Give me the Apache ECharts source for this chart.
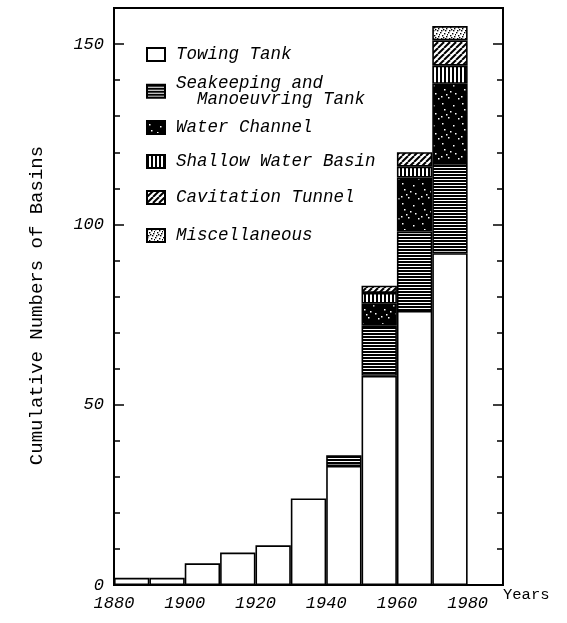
<!DOCTYPE html>
<html>
<head>
<meta charset="utf-8">
<script src="https://cdn.jsdelivr.net/npm/echarts@6/dist/echarts.min.js"></script>
<style>html,body{margin:0;padding:0;background:#fff;}#c{width:567px;height:623px;}</style>
</head>
<body>
<div id="c"></div>
<script>
// ---- data ----
const years = ['1880','1890','1900','1910','1920','1930','1940','1950','1960','1970','1980'];
const towingTank      = [2, 2, 6, 9, 11, 24, 33, 58, 76, 92, null];
const seakeepingTank  = [null, null, null, null, null, null, 3, 14, 22, 25, null];
const waterChannel    = [null, null, null, null, null, null, null, 6, 15, 22, null];
const shallowWater    = [null, null, null, null, null, null, null, 3, 3, 5, null];
const cavitationTunnel= [null, null, null, null, null, null, null, 2, 4, 7, null];
const miscellaneous   = [null, null, null, null, null, null, null, null, null, 4, null];
const yTickLabels = [0, 50, 100, 150];
const xTickLabels = [1880, 1900, 1920, 1940, 1960, 1980];

const seriesNames = ['Towing Tank', 'Seakeeping and\n  Manoeuvring Tank', 'Water Channel',
  'Shallow Water Basin', 'Cavitation Tunnel', 'Miscellaneous'];

// ---- patterns ----
function pat(w, h, bg, draw) {
  const c = document.createElement('canvas');
  c.width = w; c.height = h;
  const ctx = c.getContext('2d');
  ctx.fillStyle = bg; ctx.fillRect(0, 0, w, h);
  draw(ctx, w, h);
  return { image: c, repeat: 'repeat' };
}
const pWhite = '#ffffff';
const pHoriz = pat(3, 3, '#fff', (ctx) => { ctx.fillStyle = '#000'; ctx.fillRect(0, 0, 3, 2); });
const pVert = pat(4, 4, '#fff', (ctx) => { ctx.fillStyle = '#000'; ctx.fillRect(0, 0, 2, 4); });
const pDiag = pat(6, 6, '#fff', (ctx, w, h) => {
  ctx.strokeStyle = '#000'; ctx.lineWidth = 2;
  for (const o of [-6, 0, 6]) { ctx.beginPath(); ctx.moveTo(o, h); ctx.lineTo(o + w, 0); ctx.stroke(); }
});
const speckW = [[2,3],[13,5],[4,9],[10,11],[15,13],[1,16],[8,17],[18,18],[6,14]];
const pSpeckBlack = pat(20, 20, '#000', (ctx) => {
  ctx.fillStyle = '#fff';
  speckW.forEach(([x, y]) => ctx.fillRect(x, y, 1.5, 1.5));
});
const speckB = [[0,0],[4,1],[2,3],[6,4],[1,6],[5,6],[3,5],[7,2]];
const pSpeckWhite = pat(8, 8, '#fff', (ctx) => {
  ctx.fillStyle = '#000';
  speckB.forEach(([x, y]) => ctx.fillRect(x, y, 1.4, 1.4));
});
const fills = [pWhite, pHoriz, pSpeckBlack, pVert, pDiag, pSpeckWhite];
const values = [towingTank, seakeepingTank, waterChannel, shallowWater, cavitationTunnel, miscellaneous];

const mono = 'Liberation Mono';
const legendCenters = [54, 90, 127, 161, 197, 235];

const legends = seriesNames.map((n, i) => {
  const twoLine = n.indexOf('\n') >= 0;
  const h = twoLine ? 31 : 17;
  return {
    data: [n], orient: 'vertical', left: 146, top: legendCenters[i] - h / 2,
    padding: 0, itemWidth: 18, itemHeight: 13, icon: 'rect', selectedMode: false,
    itemStyle: { borderColor: '#000', borderWidth: 2 },
    textStyle: { fontFamily: mono, fontStyle: 'italic', fontSize: 17.5, color: '#000',
      lineHeight: twoLine ? 15.5 : 17, padding: [0, 0, 0, 6] }
  };
});

const series = seriesNames.map((n, i) => ({
  name: n, type: 'bar', stack: 'total', xAxisIndex: 0, yAxisIndex: 0,
  barCategoryGap: '0%', data: values[i],
  itemStyle: { color: fills[i], borderColor: '#000', borderWidth: 1.6 }
}));

const tickLine = { lineStyle: { color: '#000', width: 1.5 } };
const option = {
  animation: false,
  backgroundColor: '#fff',
  legend: legends,
  grid: { left: 114, right: 64, top: 8, bottom: 38, show: true, borderColor: '#000', borderWidth: 2, containLabel: false },
  xAxis: [
    { type: 'category', data: years, show: false, boundaryGap: true },
    { type: 'value', min: 1880, max: 1990, interval: 20, position: 'bottom',
      name: 'Years', nameLocation: 'end', nameGap: 0,
      nameTextStyle: { fontFamily: mono, fontSize: 15.5, color: '#000', verticalAlign: 'top', padding: [2, 0, 0, 0] },
      axisLine: { show: true, lineStyle: { color: '#000', width: 2 } },
      axisTick: { show: false }, splitLine: { show: false },
      axisLabel: { margin: 10, fontFamily: mono, fontStyle: 'italic', fontSize: 17, color: '#000',
        formatter: (v) => xTickLabels.includes(v) ? String(v) : '' } }
  ],
  yAxis: [
    { type: 'value', min: 0, max: 160, interval: 10, position: 'left',
      axisLine: { show: true, lineStyle: { color: '#000', width: 2 } },
      axisTick: { show: true, inside: true, length: 6, ...tickLine },
      axisLabel: { show: false }, splitLine: { show: false } },
    { type: 'value', min: 0, max: 160, interval: 50, position: 'left',
      name: 'Cumulative Numbers of Basins', nameLocation: 'middle', nameGap: 68,
      nameTextStyle: { fontFamily: mono, fontSize: 19, color: '#000', padding: [0, 18, 0, 0] },
      axisLine: { show: false },
      axisTick: { show: true, inside: true, length: 10, ...tickLine },
      axisLabel: { margin: 10, fontFamily: mono, fontStyle: 'italic', fontSize: 17, color: '#000',
        formatter: (v) => yTickLabels.includes(v) ? String(v) : '' },
      splitLine: { show: false } },
    { type: 'value', min: 0, max: 160, interval: 10, position: 'right',
      axisLine: { show: true, lineStyle: { color: '#000', width: 2 } },
      axisTick: { show: true, inside: true, length: 6, ...tickLine },
      axisLabel: { show: false }, splitLine: { show: false } },
    { type: 'value', min: 0, max: 160, interval: 50, position: 'right',
      axisLine: { show: false },
      axisTick: { show: true, inside: true, length: 10, ...tickLine },
      axisLabel: { show: false }, splitLine: { show: false } }
  ],
  series: series
};
const chart = echarts.init(document.getElementById('c'), null, { renderer: 'canvas' });
chart.setOption(option);
</script>
</body>
</html>
